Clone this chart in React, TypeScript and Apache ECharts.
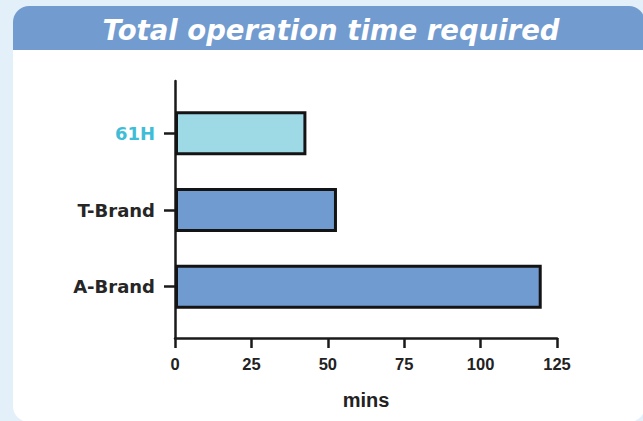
import React, { useEffect, useRef } from "react";
import * as echarts from "echarts";

const titleText = "Total operation time required";
const categories = ["A-Brand", "T-Brand", "61H"];
const minutes = [120, 53, 43];
const barColors = ["#6f9bd1", "#6f9bd1", "#9ed9e6"];
const labelColors = ["#262626", "#262626", "#3fbdd6"];
const xTicks = [0, 25, 50, 75, 100, 125];
const xName = "mins";

export default function App() {
  const ref = useRef<HTMLDivElement>(null);
  useEffect(() => {
    if (!ref.current) return;
    const chart = echarts.init(ref.current, null, { renderer: "svg" });
    const left = 175;
    const right = 643 - 557;
    chart.setOption({
      animation: false,
      backgroundColor: "#e4f0f9",
      graphic: [
        {
          type: "rect",
          z: -10,
          silent: true,
          shape: { x: 13, y: 6, width: 632, height: 416, r: 16 },
          style: { fill: "#ffffff" },
        },
        {
          type: "rect",
          z: -9,
          silent: true,
          shape: { x: 13, y: 6, width: 632, height: 44, r: [16, 16, 0, 0] },
          style: { fill: "#729bcf" },
        },
        {
          type: "text",
          z: 5,
          x: 331,
          y: 30,
          style: {
            text: titleText,
            fill: "#ffffff",
            font: "italic bold 27.5px 'DejaVu Sans', sans-serif",
            align: "center",
            verticalAlign: "middle",
          },
        },
      ],
      grid: [
        { left, right, top: 95, height: 230 },
        { left, right, top: 81, height: 257 },
      ],
      xAxis: [
        { gridIndex: 0, type: "value", min: 0, max: 125, show: false },
        {
          gridIndex: 1,
          type: "value",
          min: 0,
          max: 125,
          interval: 25,
          axisLine: { show: true, lineStyle: { color: "#1a1a1a", width: 2.5 } },
          axisTick: { show: true, length: 10, lineStyle: { color: "#1a1a1a", width: 2.5 } },
          splitLine: { show: false },
          axisLabel: {
            margin: 17,
            color: "#222",
            fontSize: 16.5,
            fontWeight: "bold",
            fontFamily: "'Liberation Sans', Arial, sans-serif",
            formatter: (v: number) => (xTicks.includes(v) ? String(v) : ""),
          },
          name: xName,
          nameLocation: "middle",
          nameGap: 52,
          nameTextStyle: {
            color: "#222",
            fontSize: 20,
            fontWeight: "bold",
            fontFamily: "'Liberation Sans', Arial, sans-serif",
          },
        },
      ],
      yAxis: [
        {
          gridIndex: 0,
          type: "category",
          data: categories,
          axisLine: { show: false },
          axisTick: {
            show: true,
            alignWithLabel: true,
            length: 11,
            lineStyle: { color: "#1a1a1a", width: 2.5 },
          },
          axisLabel: {
            margin: 20,
            fontSize: 18,
            fontWeight: "bold",
            fontFamily: "'DejaVu Sans', sans-serif",
            color: (_v: string, i: number) => labelColors[i],
          },
        },
        {
          gridIndex: 1,
          type: "value",
          min: 0,
          max: 1,
          axisLine: { show: true, lineStyle: { color: "#1a1a1a", width: 2.5 } },
          axisTick: { show: false },
          axisLabel: { show: false },
          splitLine: { show: false },
        },
      ],
      series: [
        {
          type: "bar",
          xAxisIndex: 0,
          yAxisIndex: 0,
          barWidth: 44,
          data: minutes.map((v, i) => ({
            value: v,
            itemStyle: { color: barColors[i] },
          })),
          itemStyle: { borderColor: "#141414", borderWidth: 3 },
        },
      ],
    });
    return () => chart.dispose();
  }, []);
  return (
    <div style={{ position: "fixed", left: 0, top: 0, width: 643, height: 421 }}>
      <div ref={ref} style={{ width: 643, height: 421 }} />
    </div>
  );
}
